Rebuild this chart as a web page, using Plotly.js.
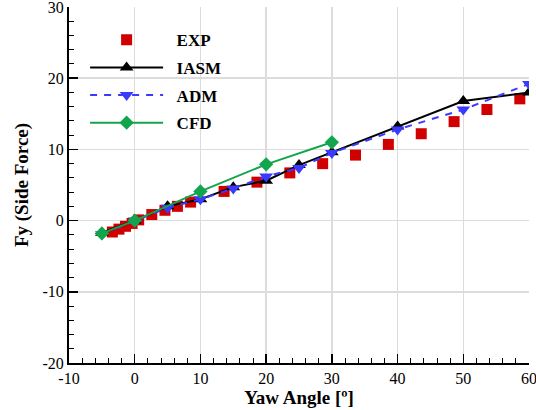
<!DOCTYPE html>
<html>
<head>
<meta charset="utf-8">
<script src="https://cdn.plot.ly/plotly-3.0.1.min.js"></script>
<style>html,body{margin:0;padding:0;background:#fff;}#chart{width:536px;height:410px;}</style>
</head>
<body>
<div id="chart"></div>
<script>
// EXP (experimental) data
const expX = [-3.4, -2.4, -1.4, -0.4, 0.6, 2.6, 4.6, 6.5, 8.5, 13.6, 18.6, 23.6, 28.6, 33.6, 38.6, 43.6, 48.6, 53.6, 58.6];
const expY = [-1.6, -1.2, -0.8, -0.4, 0.1, 0.85, 1.45, 2.0, 2.6, 4.1, 5.4, 6.7, 8.0, 9.2, 10.7, 12.2, 13.9, 15.6, 17.1];
// IASM
const iasmX = [-5, 0, 5, 10, 15, 20, 25, 30, 40, 50, 60];
const iasmY = [-1.7, 0, 2.0, 3.0, 4.7, 5.6, 7.8, 9.6, 13.2, 16.8, 18.0];
// ADM
const admX = [-5, 0, 5, 10, 15, 20, 25, 30, 40, 50, 60];
const admY = [-1.9, 0, 1.8, 3.0, 4.5, 6.2, 7.4, 9.5, 12.8, 15.6, 19.2];
// CFD
const cfdX = [-5, 0, 10, 20, 30];
const cfdY = [-1.8, 0, 4.1, 7.9, 11.0];
// tick labels
const xTicks = [-10, 0, 10, 20, 30, 40, 50, 60];
const yTicks = [-20, -10, 0, 10, 20, 30];

const serif = "Liberation Serif";
const pad = '&nbsp;&nbsp;';

const traces = [
  {x: expX, y: expY, name: pad + 'EXP', legendgroup: 'a', mode: 'markers', type: 'scatter',
   marker: {symbol: 'square', size: 11, color: '#d10000'}},
  {x: iasmX, y: iasmY, name: pad + 'IASM', legendgroup: 'b', mode: 'lines+markers', type: 'scatter',
   line: {color: '#000000', width: 2},
   marker: {symbol: 'triangle-up', size: 12, color: '#000000'}},
  {x: admX, y: admY, name: pad + 'ADM', legendgroup: 'c', mode: 'lines+markers', type: 'scatter',
   line: {color: '#3a3aff', width: 2, dash: '7px,7px'},
   marker: {symbol: 'triangle-down', size: 12, color: '#3a3aff'}},
  {x: cfdX, y: cfdY, name: pad + 'CFD', legendgroup: 'd', mode: 'lines+markers', type: 'scatter',
   line: {color: '#13a54e', width: 2},
   marker: {symbol: 'diamond', size: 11, color: '#13a54e'}}
];

const layout = {
  width: 536, height: 410,
  margin: {l: 69, r: 7, t: 7, b: 47},
  paper_bgcolor: '#ffffff', plot_bgcolor: '#ffffff',
  font: {family: serif, color: '#000', size: 16},
  showlegend: true,
  legend: {
    x: 0.035, y: 0.957, xanchor: 'left', yanchor: 'top',
    bgcolor: 'rgba(0,0,0,0)', borderwidth: 0,
    itemwidth: 73, tracegroupgap: 2.5,
    font: {family: serif, size: 17, color: '#000', weight: 'bold'}
  },
  xaxis: {
    range: [-10, 60], tickmode: 'array', tickvals: xTicks, ticktext: xTicks.map(String),
    showgrid: true, gridcolor: '#dcdcdc', gridwidth: 1.5,
    zeroline: false,
    showline: true, linecolor: '#000', linewidth: 2, mirror: false,
    ticks: 'inside', ticklen: 9, tickwidth: 1.5, tickcolor: '#000',
    ticklabeloverflow: 'allow',
    minor: {dtick: 2, tick0: 0, ticks: 'inside', ticklen: 5, tickwidth: 1, tickcolor: '#000', showgrid: false},
    tickfont: {family: serif, size: 16, color: '#000'},
    title: {text: 'Yaw Angle [º]', font: {family: serif, size: 19, color: '#000', weight: 'bold'}, standoff: 2}
  },
  yaxis: {
    range: [-20, 30], tickmode: 'array', tickvals: yTicks, ticktext: yTicks.map(String),
    showgrid: true, gridcolor: '#dcdcdc', gridwidth: 1.5,
    zeroline: false,
    showline: true, linecolor: '#000', linewidth: 2, mirror: false,
    ticks: 'inside', ticklen: 9, tickwidth: 1.5, tickcolor: '#000',
    ticklabeloverflow: 'allow',
    minor: {dtick: 2, tick0: 0, ticks: 'inside', ticklen: 5, tickwidth: 1, tickcolor: '#000', showgrid: false},
    tickfont: {family: serif, size: 16, color: '#000'},
    title: {text: 'Fy (Side Force)', font: {family: serif, size: 19, color: '#000', weight: 'bold'}, standoff: 9}
  }
};

Plotly.newPlot('chart', traces, layout, {staticPlot: true, displayModeBar: false});
</script>
</body>
</html>
